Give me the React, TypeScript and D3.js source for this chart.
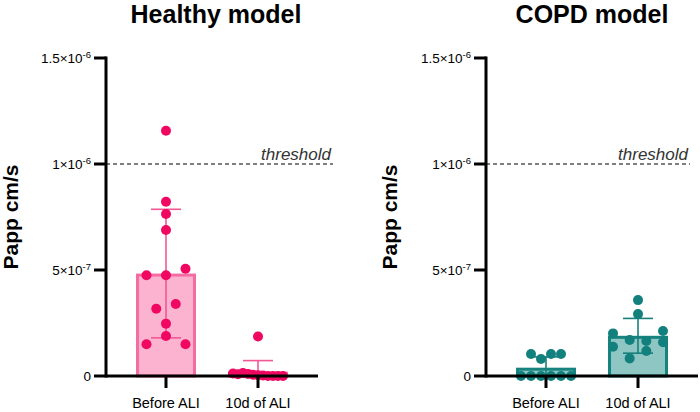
import React from 'react';
import * as d3 from 'd3';

// values in units of 1e-6 cm/s
const categories = ['Before ALI', '10d of ALI'];
const panelTitles = ['Healthy model', 'COPD model'];
const healthyBefore = [1.157, 0.822, 0.764, 0.689, 0.475, 0.475, 0.506, 0.317, 0.34, 0.247, 0.15, 0.189, 0.15];
const healthyAfter = [0.012, 0.008, 0.014, 0.01, 0.006, 0.004, 0.002, 0, 0, 0, 0, 0.186];
const copdBefore = [0, 0, 0, 0, 0, 0, 0.104, 0.08, 0.104, 0.104];
const copdAfter = [0.358, 0.292, 0.201, 0.212, 0.138, 0.17, 0.165, 0.159, 0.083, 0.118];
const yTicks = [0, 0.5, 1, 1.5];
const unit = 1e-6;
const thresholdValue = 1;
const thresholdLabel = 'threshold';
const yLabel = 'Papp cm/s';

const FONT = "'Liberation Sans', Arial, Helvetica, sans-serif";

const panels = [
  {
    title: panelTitles[0],
    groups: [healthyBefore, healthyAfter],
    axisX: 106,
    titleX: 216,
    labelX: 18,
    threshEnd: 333,
    dot: '#EF0762',
    fill: '#FBB3D0',
    edge: '#F56CA3',
    err: '#F25895',
  },
  {
    title: panelTitles[1],
    groups: [copdBefore, copdAfter],
    axisX: 486,
    titleX: 592,
    labelX: 397,
    threshEnd: 690,
    dot: '#12807D',
    fill: '#8DC6C3',
    edge: '#17837F',
    err: '#17807D',
  },
];

const yScale = d3.scaleLinear().domain([0, 1.5]).range([376, 58]);
const PLOT_W = 212;
const R = 5;
const BAR_W = 60;

function swarm(values: number[], y: (v: number) => number, d = 10, maxHalf = 25, maxStep = 19.5) {
  const idx = values.map((_, i) => i).sort((a, b) => values[a] - values[b] || a - b);
  const rows: number[][] = [];
  let cur: number[] = [];
  let startY = 0;
  for (const i of idx) {
    const py = y(values[i]);
    if (cur.length && Math.abs(py - startY) < d) cur.push(i);
    else {
      if (cur.length) rows.push(cur);
      cur = [i];
      startY = py;
    }
  }
  if (cur.length) rows.push(cur);
  const maxN = d3.max(rows, (r) => r.length) || 1;
  const step = maxN > 1 ? Math.min(maxStep, (2 * maxHalf) / (maxN - 1)) : maxStep;
  const off: number[] = new Array(values.length).fill(0);
  const placed: { x: number; y: number }[] = [];
  for (const row of rows) {
    const r = row.slice().sort((a, b) => a - b);
    let chosen: number[] = [];
    for (let m = 1; m <= 7; m += 2) {
      const xs = r.map((_, k) => (k - (r.length - 1) / 2) * step * m);
      const ok = r.every((i, k) =>
        placed.every((p) => Math.hypot(p.x - xs[k], p.y - y(values[i])) >= d * 0.95)
      );
      chosen = xs;
      if (ok) break;
    }
    r.forEach((i, k) => {
      off[i] = chosen[k];
      placed.push({ x: chosen[k], y: y(values[i]) });
    });
  }
  return off;
}

function tickLabel(v: number, x: number, y: number) {
  if (v === 0) {
    return (
      <text x={x} y={y} dy="0.36em" textAnchor="end" fontSize={13.5} fontFamily={FONT}>
        0
      </text>
    );
  }
  const real = v * unit;
  const exp = Math.floor(Math.log10(real) + 1e-9);
  const mant = +(real / Math.pow(10, exp)).toFixed(2);
  return (
    <text x={x} y={y} dy="0.36em" textAnchor="end" fontSize={13.5} fontFamily={FONT}>
      {`${mant}×10`}
      <tspan fontSize={9.5} dy={-5}>{`${exp}`}</tspan>
    </text>
  );
}

function Panel({ p }: { p: (typeof panels)[number] }) {
  const x = d3
    .scalePoint<string>()
    .domain(categories)
    .range([p.axisX, p.axisX + PLOT_W])
    .padding(0.652);
  const y0 = yScale(0);
  return (
    <g>
      <text
        x={p.titleX}
        y={23}
        textAnchor="middle"
        fontSize={25}
        fontWeight="bold"
        fontFamily={FONT}
      >
        {p.title}
      </text>
      <text
        transform={`translate(${p.labelX},${(yScale(0) + yScale(1.5)) / 2}) rotate(-90)`}
        textAnchor="middle"
        fontSize={21}
        fontWeight="bold"
        fontFamily={FONT}
      >
        {yLabel}
      </text>
      {/* threshold */}
      <line
        x1={p.axisX}
        x2={p.threshEnd}
        y1={yScale(thresholdValue)}
        y2={yScale(thresholdValue)}
        stroke="#000"
        strokeWidth={1.2}
        strokeDasharray="4,3"
      />
      <text
        x={p.threshEnd - 2}
        y={yScale(thresholdValue) - 4}
        textAnchor="end"
        fontSize={17}
        fontStyle="italic"
        fill="#333"
        fontFamily={FONT}
      >
        {thresholdLabel}
      </text>
      {/* bars */}
      {p.groups.map((vals, gi) => {
        const cx = x(categories[gi])!;
        const mean = d3.mean(vals)!;
        const sd = d3.deviation(vals)!;
        const top = yScale(mean);
        const hi = yScale(mean + sd);
        const lo = yScale(Math.max(0, mean - sd));
        const showLo = mean - sd > 0;
        const offs = swarm(vals, yScale);
        return (
          <g key={gi}>
            <rect
              x={cx - BAR_W / 2 + 1.5}
              y={top + 1.5}
              width={BAR_W - 3}
              height={Math.max(0, y0 - top - 1.5)}
              fill={p.fill}
              stroke={p.edge}
              strokeWidth={3}
            />
            <line x1={cx} x2={cx} y1={hi} y2={lo} stroke={p.err} strokeWidth={1.6} />
            <line x1={cx - 15} x2={cx + 15} y1={hi} y2={hi} stroke={p.err} strokeWidth={1.6} />
            {showLo && (
              <line x1={cx - 15} x2={cx + 15} y1={lo} y2={lo} stroke={p.err} strokeWidth={1.6} />
            )}
            {vals.map((v, i) => (
              <circle key={i} cx={cx + offs[i]} cy={yScale(v)} r={R} fill={p.dot} />
            ))}
          </g>
        );
      })}
      {/* axes */}
      <line x1={p.axisX} x2={p.axisX} y1={yScale(1.5) - 1.5} y2={y0 + 1.5} stroke="#000" strokeWidth={3} />
      <line x1={p.axisX} x2={p.axisX + PLOT_W} y1={y0} y2={y0} stroke="#000" strokeWidth={3} />
      {yTicks.map((t) => (
        <g key={t}>
          <line x1={p.axisX - 12} x2={p.axisX} y1={yScale(t)} y2={yScale(t)} stroke="#000" strokeWidth={3} />
          {tickLabel(t, p.axisX - 15, yScale(t))}
        </g>
      ))}
      {categories.map((c) => (
        <g key={c}>
          <line x1={x(c)} x2={x(c)} y1={y0} y2={y0 + 12} stroke="#000" strokeWidth={3} />
          <text x={x(c)} y={408} textAnchor="middle" fontSize={14.5} fontFamily={FONT}>
            {c}
          </text>
        </g>
      ))}
    </g>
  );
}

export default function App() {
  return (
    <svg
      width={700}
      height={412}
      viewBox="0 0 700 412"
      style={{ position: 'absolute', left: 0, top: 0, background: '#fff' }}
    >
      <rect width={700} height={412} fill="#fff" />
      {panels.map((p) => (
        <Panel key={p.title} p={p} />
      ))}
    </svg>
  );
}
